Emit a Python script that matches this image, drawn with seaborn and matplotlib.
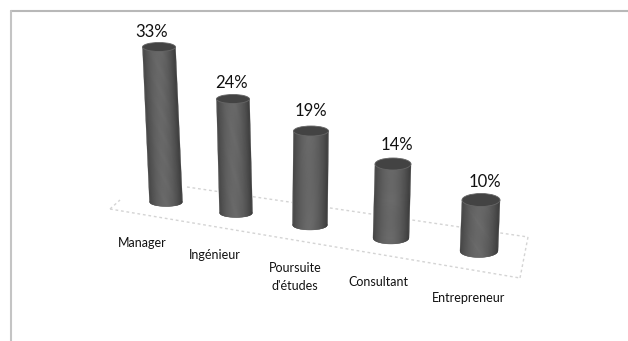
import numpy as np
import matplotlib
matplotlib.use("Agg")
import matplotlib.pyplot as plt
from matplotlib.patches import Ellipse
from matplotlib.transforms import Affine2D
import seaborn as sns

categories = ["Manager", "Ingénieur", "Poursuite\nd'études", "Consultant", "Entrepreneur"]
values = [33, 24, 19, 14, 10]

# perspective layout in reference pixels (not data)
W, H, DPI = 628, 341, 100
base_x = [166, 236, 310, 391, 479]
base_y = [202, 213, 225, 238, 251]
top_x = [159, 233, 311, 393, 481]
top_y = [47, 99, 131, 164, 200]
width = [33, 33, 35, 36, 38]
cap_h = [4.5, 4.5, 5, 6, 6.5]
label_xy = [(142, 243), (215, 255), (295, 277), (378, 282), (469, 298)]
value_off = [(-7, -15), (-2, -16), (0, -20), (4, -19), (4, -18)]

sns.set_theme(style="white")
plt.rcParams["font.family"] = ["Lato", "DejaVu Sans"]

fig = plt.figure(figsize=(W / DPI, H / DPI), dpi=DPI, facecolor="white")
ax = fig.add_axes([0, 0, 1, 1])
sns.barplot(x=categories, y=values, color="#4a4a4a", width=0.8, ax=ax, saturation=1)
ax.set_axis_off()

px = Affine2D().scale(1, -1).translate(0, H).scale(1 / DPI) + fig.dpi_scale_trans


def line(xs, ys, **kw):
    ax.plot(xs, ys, transform=px, clip_on=False, **kw)


# frame
line([10.5, 628], [10.5, 10.5], color="#b8b8b8", lw=1.5, zorder=1)
line([10.5, 10.5], [10.5, 341], color="#c4c4c4", lw=1.5, zorder=1)

# floor
floor = dict(color="#d4d4d4", lw=1.0, ls=(0, (2, 2)), zorder=1)
line([110, 520], [209, 278], **floor)
line([187, 528], [187, 237], **floor)
line([528, 520], [237, 278], **floor)
line([110, 120], [209, 200], **floor)

# cylinders: each seaborn bar is mapped through its own perspective transform
for i, (bar, v) in enumerate(zip(ax.patches, values)):
    xc = bar.get_x() + bar.get_width() / 2
    h = bar.get_height()
    sy = (base_y[i] - top_y[i]) / h
    lean = (top_x[i] - base_x[i]) / h
    sx = width[i] / bar.get_width()
    m = Affine2D.from_values(sx, 0, lean, -sy, base_x[i] - sx * xc, base_y[i])
    bar.set_transform(m + px)
    bar.set_clip_on(False)
    bar.set_zorder(2)
    # dark underlay for the rounded foot so strip seams do not show white
    ax.add_patch(Ellipse((base_x[i], base_y[i]), width[i], 2 * cap_h[i], transform=px,
                         facecolor="#4a4a4a", edgecolor="none", clip_on=False, zorder=2))

    edges = np.linspace(-1, 1, 37)
    for a, b in zip(edges[:-1], edges[1:]):
        u = (a + b) / 2
        c = 0.25 + 0.17 * (1 - abs(u + 0.05) ** 1.8)
        xa, xb = [xc + t * bar.get_width() / 2 for t in (a, b)]
        # rounded foot of the cylinder, drawn below the bar's base line
        da = cap_h[i] * np.sqrt(max(0, 1 - a * a)) / sy
        db = cap_h[i] * np.sqrt(max(0, 1 - b * b)) / sy
        ax.fill([xa, xb, xb, xa], [-da, -db, h, h], facecolor=(c, c, c), edgecolor=(c, c, c),
                lw=0.25, transform=m + px, clip_on=False, zorder=3)
    ax.add_patch(Ellipse((top_x[i], top_y[i]), width[i], 2 * cap_h[i], transform=px,
                         facecolor="#434343", edgecolor="#666666", lw=0.6,
                         clip_on=False, zorder=4))
    dx, dy = value_off[i]
    ax.text(top_x[i] + dx, top_y[i] + dy, f"{v}%", transform=px, ha="center", va="center",
            fontsize=12, color="#111111", zorder=5)
    lx, ly = label_xy[i]
    ax.text(lx, ly, categories[i], transform=px, ha="center", va="center",
            fontsize=9, color="#111111", linespacing=1.5, zorder=5)

fig.savefig("out.png", dpi=DPI, facecolor="white")
